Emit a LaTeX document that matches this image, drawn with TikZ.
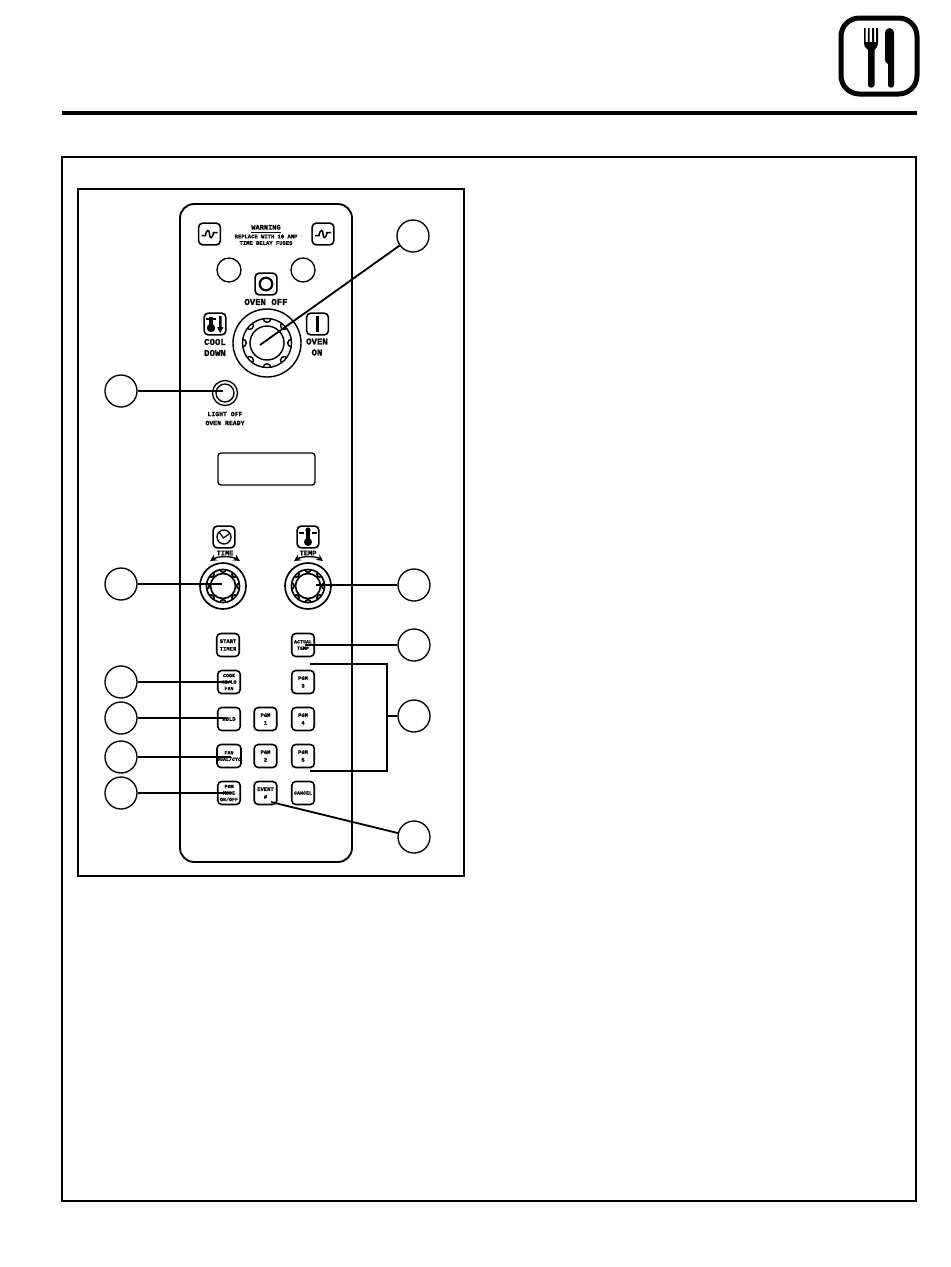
\documentclass[tikz,border=0pt]{standalone}
\usepackage{fontspec}
\setmainfont[BoldFeatures={FakeBold=1.2}]{Liberation Mono}
\newcommand{\fsA}{\fontsize{5.4}{6.6}\bfseries\selectfont}
\newcommand{\fsB}{\fontsize{4.2}{4.2}\bfseries\selectfont}
\newcommand{\fsC}{\fontsize{3.3}{4.6}\bfseries\selectfont}
\newcommand{\fsD}{\fontsize{3.0}{3.9}\bfseries\selectfont}
\newcommand{\fanknob}[7]{%
  % #1 x, #2 y, #3 outer, #4 ring, #5 inner, #6 bump radius, #7 line width
  \foreach \a in {0,45,...,315} \draw[line width=#7] ($(#1,#2)+(\a:#4)$) circle (#6);
  \fill[white,even odd rule] (#1,#2) circle (#4) (#1,#2) circle (#4+#6+1);
  \draw[line width=#7] (#1,#2) circle (#3) (#1,#2) circle (#4) (#1,#2) circle (#5);
}
\usetikzlibrary{calc}
\tikzset{
  conn/.style={line width=1.1pt,draw=black},
  call/.style={circle,draw=black,line width=0.8pt,minimum size=19.2pt,inner sep=0pt,fill=white},
  hole/.style={circle,draw=black,line width=0.8pt,minimum size=14.4pt,inner sep=0pt},
  btn/.style={draw=black,line width=0.95pt,rounded corners=2.4pt,minimum width=13.5pt,minimum height=13.8pt,inner sep=0pt,align=center,font=\fsC},
  icon/.style={draw=black,line width=0.95pt,rounded corners=2.4pt,minimum width=13pt,minimum height=13pt,inner sep=0pt},
  lblA/.style={inner sep=0pt,align=center,font=\fsA},
  lblB/.style={inner sep=0pt,align=center,font=\fsB},
  lblC/.style={inner sep=0pt,align=center,font=\fsC},
}
\begin{document}
\begin{tikzpicture}[x=0.6pt,y=-0.6pt]
\useasboundingbox (0,0) rectangle (950,1267);
% header
\draw[line width=2pt] (62,113) -- (917,113);
\draw[line width=3pt,rounded corners=11pt] (841,18) rectangle (917,94);
% fork
\fill (864,28) -- (865.5,28) -- (865.5,42) -- (867.8,42) -- (867.8,28) -- (869.7,28) -- (869.7,42) -- (872,42) -- (872,28) -- (874,28) -- (874,42) -- (876,42) -- (876,28) -- (878,28) -- (878,43) .. controls (878,47) and (875,49) .. (874.5,50) -- (874.5,85) .. controls (874.5,88.5) and (868,88.5) .. (868,85) -- (868,50) .. controls (867,49) and (864,47) .. (864,43) -- cycle;
% knife
\fill (885,34) .. controls (885,26) and (894,26) .. (894,34) -- (894,85) .. controls (894,88.5) and (888,88.5) .. (888,85) -- (888,64) .. controls (886,62) and (885,62) .. (885,60) -- cycle;
% frames
\draw[line width=1.1pt] (62,157) rectangle (916,1201);
\draw[line width=1.6pt] (78,189) rectangle (464,876);
\draw[line width=1.1pt,rounded corners=8.5pt] (180,204) rectangle (352,862);
% fuses
\foreach \nm/\cx in {fuseL/209.5,fuseR/323}{
  \node[icon] (\nm) at (\cx,234) {};
  \draw[line width=0.9pt] (\cx-8,235.5) -- (\cx-4,235.5) .. controls (\cx-3,229) and (\cx,229) .. (\cx,234) .. controls (\cx,239) and (\cx+3,239) .. (\cx+4,232.5) -- (\cx+8,232.5);
}
\node[lblB] (warnT) at (266,229) {\underline{WARNING}};
\node[lblC] (warnA) at (266,236.5) {REPLACE WITH 10 AMP};
\node[lblC] (warnB) at (266,243) {TIME DELAY FUSES};
\node[hole] (holeL) at (229,270) {};
\node[hole] (holeR) at (303,270) {};
\node[icon] (offBox) at (266,284) {};
\node[circle,draw=black,line width=1.3pt,minimum size=7.6pt,inner sep=0pt] (offLamp) at (266,284) {};
\node[lblA] (offTxt) at (266,302) {OVEN OFF};
% cool down icon
\node[icon] (coolBox) at (215,324) {};
\fill (211,328) circle (4.2);
\fill (209,317) rectangle (213,328);
\draw[line width=0.8pt] (206,319) -- (216,319);
\fill (219,316) rectangle (221.5,327) (217,327) -- (223.5,327) -- (220.2,333) -- cycle;
\node[lblA] (coolTxt) at (215,347.5) {COOL\\DOWN};
% oven on
\node[icon] (onBox) at (317.5,324) {};
\draw[line width=1.3pt] (317.5,316) -- (317.5,332);
\node[lblA] (onTxt) at (317,347) {OVEN\\ON};
% selector knob
\fanknob{267}{343}{34}{24.5}{17}{3.8}{0.85pt}
\coordinate (selC) at (260,345);
% light
\node[circle,draw=black,line width=0.8pt,minimum size=15pt,inner sep=0pt] (lightO) at (225,393) {};
\node[circle,draw=black,line width=0.8pt,minimum size=10.8pt,inner sep=0pt] (lightI) at (225,393) {};
\coordinate (lightC) at (223,391);
\node[lblC,font=\fontsize{3.9}{5.4}\bfseries\selectfont] (lightTxt) at (225,418.5) {LIGHT OFF\\OVEN READY};
% display
\node[draw=black,line width=0.8pt,rounded corners=1.8pt,minimum width=58.2pt,minimum height=19.2pt,inner sep=0pt] (disp) at (266.5,469) {};
% time
\node[icon] (timeBox) at (224,537) {};
\draw[line width=0.8pt] (224,537) circle (7);
\draw[line width=0.7pt] (219,532) -- (223.5,538) -- (229,534);
\node[lblB] (timeTxt) at (225,553) {TIME};
\draw[line width=0.8pt,stealth-stealth] (210,561) .. controls (218,556) and (232,556) .. (240,561);
\fanknob{223}{586}{23}{16.5}{12.5}{2.8}{1pt}
\coordinate (timeC) at (222,584);
% temp
\node[icon] (tempBox) at (308,537) {};
\fill (308,542) circle (4);
\fill (305.8,530) rectangle (310.2,542);
\fill (308,530) circle (2.6);
\draw[line width=0.8pt] (299,533) -- (304,533) (312,533) -- (317,533);
\node[lblB] (tempTxt) at (308,553) {TEMP};
\draw[line width=0.8pt,stealth-stealth] (294,561) .. controls (302,556) and (316,556) .. (323,561);
\fanknob{308}{586}{23}{16.5}{12.5}{2.8}{1pt}
\coordinate (tempC) at (316,585);
% buttons
\node[btn] (bStart) at (228,645) {START\\TIMER};
\node[btn,font=\fsD] (bActual) at (303,645) {ACTUAL\\TEMP};
\node[btn,font=\fsD] (bCook) at (229,682) {COOK\\HI/LO\\FAN};
\node[btn] (bP3) at (303,682) {PGM\\3};
\node[btn] (bHold) at (229,719) {HOLD};
\node[btn] (bP1) at (265.5,719) {PGM\\1};
\node[btn] (bP4) at (303,719) {PGM\\4};
\node[btn,font=\fsD] (bFan) at (229,756) {FAN\\DUAL/CYC};
\node[btn] (bP2) at (265.5,756) {PGM\\2};
\node[btn] (bP5) at (303,756) {PGM\\5};
\node[btn,font=\fsD] (bMode) at (229,793) {PGM\\MODE\\ON/OFF};
\node[btn] (bEvent) at (265.5,793) {EVENT\\\#};
\node[btn,font=\fsD] (bCancel) at (303,793) {CANCEL};
% callouts
\node[call] (c1) at (413,236) {};
\node[call] (c2) at (121,391) {};
\node[call] (c3) at (121,584) {};
\node[call] (c4) at (414,585) {};
\node[call] (c5) at (414,645) {};
\node[call] (c6) at (121,682) {};
\node[call] (c7) at (121,718) {};
\node[call] (c8) at (121,757) {};
\node[call] (c9) at (121,793) {};
\node[call] (c10) at (414,716) {};
\node[call] (c11) at (414,837) {};
% connector ends
\coordinate (actualE) at (305,645);
\coordinate (cookE) at (231,682);
\coordinate (holeE) at (226,718);
\coordinate (fanE) at (231,757);
\coordinate (modeE) at (231,793);
\coordinate (eventE) at (271,802);
\coordinate (brA) at (310,664);
\coordinate (brB) at (387,664);
\coordinate (brC) at (387,771);
\coordinate (brD) at (310,771);
\coordinate (brM) at (387,716);
\draw[conn] (c1) -- (selC);
\draw[conn] (c2) -- (lightC);
\draw[conn] (c3) -- (timeC);
\draw[conn] (c4) -- (tempC);
\draw[conn] (c5) -- (actualE);
\draw[conn] (c6) -- (cookE);
\draw[conn] (c7) -- (holeE);
\draw[conn] (c8) -- (fanE);
\draw[conn] (c9) -- (modeE);
\draw[conn] (c11) -- (eventE);
\draw[conn] (brA) -- (brB) -- (brC) -- (brD);
\draw[conn] (c10) -- (brM);
\end{tikzpicture}
\end{document}
